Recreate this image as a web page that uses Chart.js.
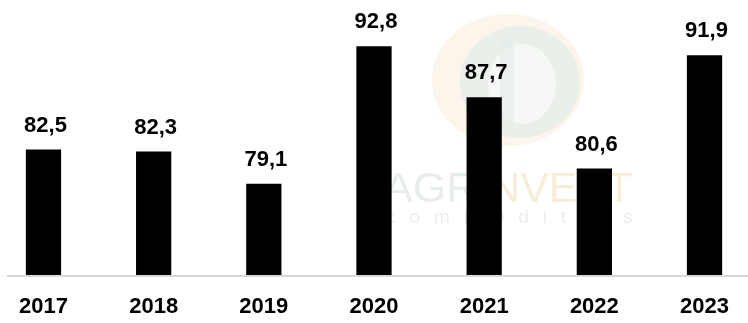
<!DOCTYPE html>
<html>
<head>
<meta charset="utf-8">
<script src="https://cdn.jsdelivr.net/npm/chart.js@4.4.1/dist/chart.umd.min.js"></script>
<style>
  html, body { margin: 0; padding: 0; background: #fff; }
  #wrap { width: 748px; height: 323px; }
</style>
</head>
<body>
<div id="wrap"><canvas id="barChart"></canvas></div>
<script>
const years = ['2017', '2018', '2019', '2020', '2021', '2022', '2023'];
const values = [82.5, 82.3, 79.1, 92.8, 87.7, 80.6, 91.9];
const axisMin = 70;
const axisMax = 97;

const labelFont = 'bold 22px "Liberation Sans", Arial, sans-serif';

// faint logo + company name behind the bars
const watermark = {
  id: 'watermark',
  beforeDatasetsDraw(chart) {
    const ctx = chart.ctx;
    ctx.save();
    // outer ring, warm on the left
    ctx.fillStyle = 'rgba(244, 230, 204, 0.4)';
    ctx.beginPath();
    ctx.ellipse(508, 80, 76, 66, 0, 0, Math.PI * 2);
    ctx.fill();
    ctx.fillStyle = 'rgba(226, 236, 232, 0.7)';
    ctx.beginPath();
    ctx.ellipse(520, 82, 60, 56, 0, 0, Math.PI * 2);
    ctx.fill();
    ctx.fillStyle = 'rgba(255, 255, 255, 0.55)';
    ctx.beginPath();
    ctx.ellipse(522, 84, 34, 40, 0, 0, Math.PI * 2);
    ctx.fill();
    ctx.fillStyle = 'rgba(228, 236, 233, 0.7)';
    ctx.fillRect(500, 40, 14, 84);

    ctx.font = '43px "Liberation Sans", Arial, sans-serif';
    ctx.textBaseline = 'alphabetic';
    ctx.textAlign = 'left';
    ctx.fillStyle = '#e7edea';
    ctx.fillText('AGR', 384, 202);
    const w = ctx.measureText('AGR').width;
    ctx.fillStyle = '#f6eed9';
    ctx.fillText('INVEST', 384 + w, 202);
    ctx.font = '19px "Liberation Sans", Arial, sans-serif';
    ctx.fillStyle = '#ededed';
    ctx.letterSpacing = '14px';
    ctx.fillText('commodities', 386, 223);
    ctx.restore();
  }
};

// grey baseline across the full width, under the bars
const baseline = {
  id: 'baseline',
  beforeDatasetsDraw(chart) {
    const ctx = chart.ctx;
    const y = chart.scales.y.getPixelForValue(axisMin) + 1;
    ctx.save();
    ctx.strokeStyle = '#d9d9d9';
    ctx.lineWidth = 2;
    ctx.beginPath();
    ctx.moveTo(7, y);
    ctx.lineTo(chart.width, y);
    ctx.stroke();
    ctx.restore();
  }
};

// value above each bar, decimal comma
const valueLabels = {
  id: 'valueLabels',
  afterDatasetsDraw(chart) {
    const ctx = chart.ctx;
    const meta = chart.getDatasetMeta(0);
    ctx.save();
    ctx.font = labelFont;
    ctx.fillStyle = '#000';
    ctx.textAlign = 'center';
    ctx.textBaseline = 'alphabetic';
    meta.data.forEach((bar, i) => {
      const txt = values[i].toFixed(1).replace('.', ',');
      ctx.fillText(txt, bar.x + 2, bar.y - 18);
    });
    ctx.restore();
  }
};

new Chart(document.getElementById('barChart'), {
  type: 'bar',
  data: {
    labels: years,
    datasets: [{
      data: values,
      backgroundColor: '#000',
      borderWidth: 0,
      barPercentage: 0.32,
      categoryPercentage: 1,
      // let the outer bars spill past the chart area sideways
      clip: { left: false, right: false, top: false, bottom: 0 }
    }]
  },
  options: {
    responsive: true,
    maintainAspectRatio: false,
    animation: false,
    layout: { padding: { left: 41, right: 32, top: 4, bottom: 0 } },
    plugins: {
      legend: { display: false },
      tooltip: { enabled: false }
    },
    scales: {
      x: {
        offset: false,
        grid: { display: false, drawTicks: false },
        border: { display: false },
        ticks: {
          padding: 19,
          color: '#000',
          font: { family: '"Liberation Sans", Arial, sans-serif', size: 22, weight: 'bold' },
          maxRotation: 0,
          autoSkip: false
        },
        afterFit(scale) {
          scale.height = 48;
        }
      },
      y: {
        display: false,
        min: axisMin,
        max: axisMax
      }
    }
  },
  plugins: [watermark, baseline, valueLabels]
});
</script>
</body>
</html>
